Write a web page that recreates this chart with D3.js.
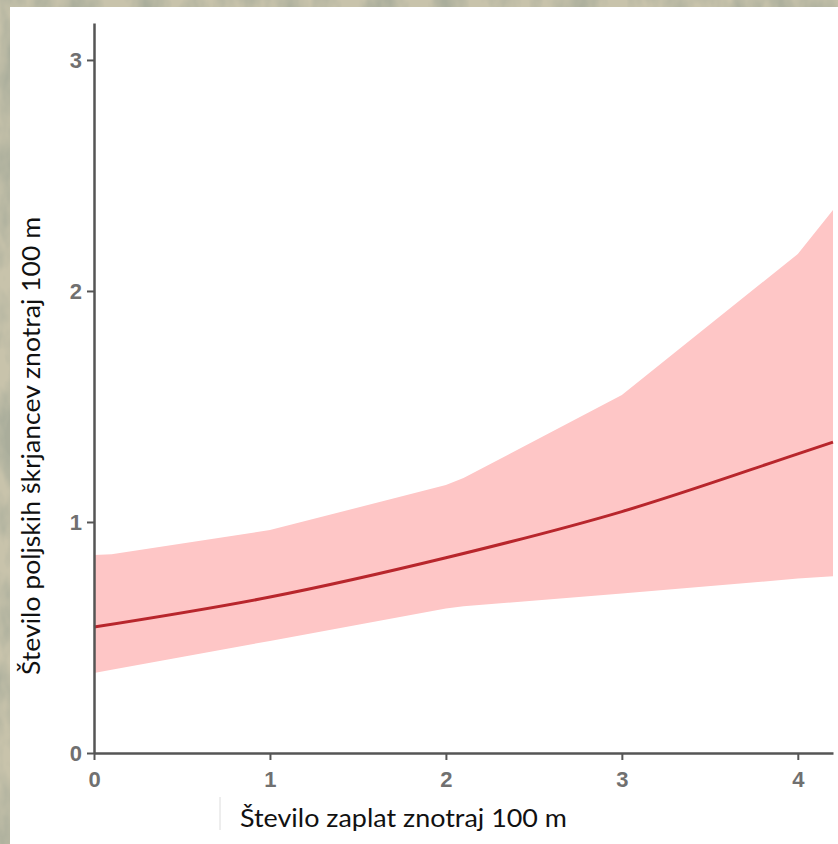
<!DOCTYPE html>
<html>
<head>
<meta charset="utf-8">
<script src="https://cdn.jsdelivr.net/npm/d3@7"></script>
<style>
  html, body { margin: 0; padding: 0; background: #c3bea6; }
  svg { display: block; }
</style>
</head>
<body>
<svg id="chart" width="838" height="844"></svg>
<script>
// values
const xs    = [0, 0.1, 1, 2, 2.1, 3, 4, 4.2];
const upper = [0.857, 0.86, 0.965, 1.16, 1.19, 1.55, 2.16, 2.35];
const lower = [0.346, 0.36, 0.485, 0.625, 0.635, 0.69, 0.755, 0.765];
const meanX = [0, 1, 2, 3, 4, 4.2];
const mean  = [0.545, 0.675, 0.845, 1.045, 1.295, 1.346];
const xTicks = [0, 1, 2, 3, 4];
const yTicks = [0, 1, 2, 3];
const xTitle = 'Število zaplat znotraj 100 m';
const yTitle = 'Število poljskih škrjancev znotraj 100 m';

const svg = d3.select('#chart');

// textured backdrop
const defs = svg.append('defs');
const f = defs.append('filter').attr('id', 'grain')
  .attr('filterUnits', 'userSpaceOnUse')
  .attr('x', 0).attr('y', 0).attr('width', 838).attr('height', 844);
f.append('feTurbulence').attr('type', 'fractalNoise').attr('baseFrequency', '0.03 0.015').attr('numOctaves', 4).attr('seed', 3);
f.append('feColorMatrix').attr('type', 'matrix')
  .attr('values', '0 0 0 0 0.40  0 0 0 0 0.42  0 0 0 0 0.33  2.6 0 0 0 -1.0');
svg.append('rect').attr('width', 838).attr('height', 844).attr('fill', '#c8c3ab');
svg.append('rect').attr('width', 838).attr('height', 844).attr('fill', '#000').attr('filter', 'url(#grain)');

// white panel
svg.append('rect').attr('x', 10).attr('y', 7).attr('width', 828).attr('height', 837).attr('fill', '#fff');

const x = d3.scaleLinear().domain([0, 4.2]).range([94, 833]);
const y = d3.scaleLinear().domain([0, 3.16]).range([753, 23]);

const band = xs.map((v, i) => ({ x: v, lo: lower[i], hi: upper[i] }));
svg.append('path')
  .datum(band)
  .attr('fill', '#fec6c6')
  .attr('d', d3.area()
    .x(d => x(d.x))
    .y0(d => y(d.lo))
    .y1(d => y(d.hi)));

const meanPts = meanX.map((v, i) => ({ x: v, y: mean[i] }));
svg.append('path')
  .datum(meanPts)
  .attr('fill', 'none')
  .attr('stroke', '#b8262c')
  .attr('stroke-width', 3)
  .attr('d', d3.line().x(d => x(d.x)).y(d => y(d.y)).curve(d3.curveMonotoneX));

const xAxis = svg.append('g')
  .attr('transform', 'translate(0,753)')
  .call(d3.axisBottom(x).tickValues(xTicks).tickFormat(d3.format('d')).tickSize(7).tickSizeOuter(0).tickPadding(11));
const yAxis = svg.append('g')
  .attr('transform', 'translate(94,0)')
  .call(d3.axisLeft(y).tickValues(yTicks).tickFormat(d3.format('d')).tickSize(7).tickSizeOuter(0).tickPadding(5));

[xAxis, yAxis].forEach(g => {
  g.attr('font-size', null).attr('font-family', null);
  g.select('.domain').attr('stroke', '#555').attr('stroke-width', 2.5);
  g.selectAll('.tick line').attr('stroke', '#555').attr('stroke-width', 2);
  g.selectAll('.tick text')
    .style('fill', '#707070')
    .style('font-family', '"Liberation Sans", Arial, sans-serif')
    .style('font-weight', 'bold')
    .style('font-size', '22px');
});

// faint separator left of the x title
svg.append('line').attr('x1', 220).attr('x2', 220).attr('y1', 797).attr('y2', 830)
  .attr('stroke', '#dcdcdc').attr('stroke-width', 1);

svg.append('text')
  .attr('x', 240).attr('y', 827)
  .style('font-family', 'Lato, "Open Sans", sans-serif')
  .style('font-size', '25px')
  .attr('fill', '#111')
  .attr('textLength', 327).attr('lengthAdjust', 'spacingAndGlyphs')
  .text(xTitle);

svg.append('text')
  .attr('transform', 'translate(40,675) rotate(-90)')
  .style('font-family', 'Lato, "Open Sans", sans-serif')
  .style('font-size', '25px')
  .attr('fill', '#111')
  .attr('textLength', 458).attr('lengthAdjust', 'spacingAndGlyphs')
  .text(yTitle);
</script>
</body>
</html>
